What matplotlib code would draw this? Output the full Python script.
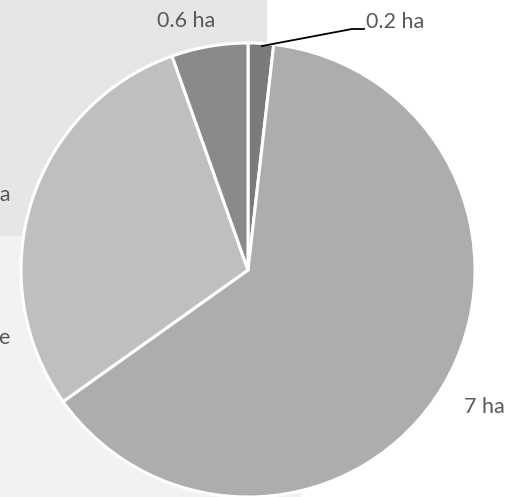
import matplotlib.pyplot as plt
from matplotlib.patches import Rectangle

# slice data, clockwise from 12 o'clock
areas = [0.2, 7.0, 3.25, 0.6]
area_labels = ['0.2 ha', '7 ha', '3.3 ha', '0.6 ha']
slice_colors = ['#7b7b7b', '#adadad', '#bfbfbf', '#8a8a8a']

plt.rcParams['font.family'] = ['Lato', 'DejaVu Sans']

fig = plt.figure(figsize=(5.22, 4.97), dpi=100)
ax = fig.add_axes([0, 0, 1, 1])

# background panels behind the chart
ax.add_patch(Rectangle((0, 0), 300, 262, color='#f2f2f2', zorder=0))
ax.add_patch(Rectangle((0, 262), 266, 235, color='#e6e6e6', zorder=0))

ax.pie(areas, colors=slice_colors, startangle=90, counterclock=False,
       center=(248, 227), radius=227, frame=True,
       wedgeprops=dict(edgecolor='white', linewidth=2.2))
ax.set_xlim(0, 522)
ax.set_ylim(0, 497)
ax.axis('off')

txt = dict(color='#595959', fontsize=15.5, va='center')
ax.text(186, 476, area_labels[3], ha='center', **txt)
ax.text(366, 475, area_labels[0], ha='left', **txt)
ax.plot([262, 352, 364], [451, 468, 468], color='black', linewidth=1.3)
ax.text(484, 90, area_labels[1], ha='center', **txt)
ax.text(11, 302, area_labels[2], ha='right', **txt)
ax.text(11, 159, 'Surface', ha='right', **txt)

fig.savefig('out.png', dpi=100)
